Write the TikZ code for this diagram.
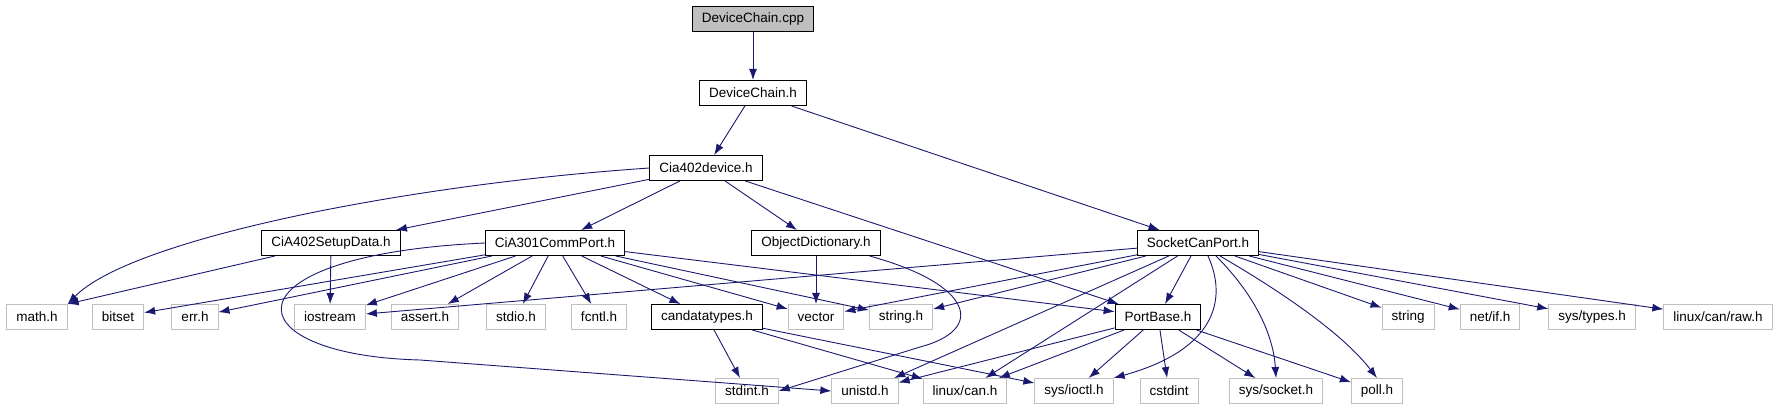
\documentclass[tikz,border=0pt]{standalone}
\usepackage{fontspec}
\setmainfont{Liberation Sans}
\usepackage{tikz}
\usetikzlibrary{arrows.meta}
\definecolor{incblue}{HTML}{191970}
\definecolor{boxgray}{HTML}{BFBFBF}

\begin{document}
\begin{tikzpicture}[x=1pt,y=-1pt,>={Latex[length=11pt,width=8pt]},
  hdr/.style={draw=black,line width=1pt,rectangle,inner xsep=9.5pt,inner ysep=0pt,minimum height=25pt,font=\fontsize{13.5}{15}\selectfont},
  sys/.style={hdr,draw=boxgray},
  root/.style={hdr,fill=boxgray},
  inc/.style={->,draw=incblue,line width=0.9pt}]
\useasboundingbox (0,0) rectangle (1775,411);
% files of the project
\node[root] (dcpp) at (753,19) {DeviceChain.cpp};
\node[hdr] (dch) at (753,93) {DeviceChain.h};
\node[hdr] (cia402) at (706,168) {Cia402device.h};
\node[hdr] (setup) at (331,243) {CiA402SetupData.h};
\node[hdr] (comm) at (555,243) {CiA301CommPort.h};
\node[hdr] (objdict) at (816,243) {ObjectDictionary.h};
\node[hdr] (socket) at (1198,243) {SocketCanPort.h};
\node[hdr] (candata) at (707,317) {candatatypes.h};
\node[hdr] (portbase) at (1158,317) {PortBase.h};
% system headers
\node[sys] (mathh) at (37,317) {math.h};
\node[sys] (bitset) at (118,317) {bitset};
\node[sys] (errh) at (195,317) {err.h};
\node[sys] (iostream) at (330,317) {iostream};
\node[sys] (asserth) at (425,317) {assert.h};
\node[sys] (stdioh) at (516,317) {stdio.h};
\node[sys] (fcntlh) at (599,317) {fcntl.h};
\node[sys] (vector) at (816,317) {vector};
\node[sys] (stringh) at (901,317) {string.h};
\node[sys] (string) at (1408,317) {string};
\node[sys] (netif) at (1490,317) {net/if.h};
\node[sys] (systypes) at (1592,317) {sys/types.h};
\node[sys] (canraw) at (1718,317) {linux/can/raw.h};
\node[sys] (stdinth) at (747,391) {stdint.h};
\node[sys] (unistdh) at (865,391) {unistd.h};
\node[sys] (linuxcan) at (965,391) {linux/can.h};
\node[sys] (sysioctl) at (1074,391) {sys/ioctl.h};
\node[sys] (cstdint) at (1169,391) {cstdint};
\node[sys] (syssocket) at (1276,391) {sys/socket.h};
\node[sys] (pollh) at (1377,391) {poll.h};
% includes
\draw[inc] (dcpp) -- (dch);
\draw[inc] (dch) -- (cia402);
\draw[inc] (dch) -- (socket);
\draw[inc] (cia402.west) .. controls (400,185) and (130,240) .. (mathh.north east);
\draw[inc] (cia402) -- (setup);
\draw[inc] (cia402) -- (comm);
\draw[inc] (cia402) -- (objdict);
\draw[inc] (cia402) -- (portbase);
\draw[inc] (setup) -- (mathh.north east);
\draw[inc] (setup) -- (iostream);
\foreach \t in {bitset,errh,iostream,asserth,stdioh,fcntlh,candata,vector,stringh,portbase}
  \draw[inc] (comm) -- (\t);
\draw[inc] (comm.west) .. controls (220,255) and (230,355) .. (420,360) -- (unistdh.west);
\draw[inc] (objdict) -- (vector);
\draw[inc] ([xshift=-11pt]objdict.south east) .. controls (975,285) and (985,330) .. (920,347) -- (stdinth.east);
\draw[inc] (candata) -- (stdinth);
\draw[inc] (candata) -- (linuxcan);
\draw[inc] (candata) -- (sysioctl);
\foreach \t in {iostream,vector,stringh,portbase,unistdh,linuxcan,string,netif,systypes,canraw}
  \draw[inc] (socket) -- (\t);
\draw[inc] ([xshift=10pt]socket.south) .. controls (1228,300) and (1215,350) .. (sysioctl.north east);
\draw[inc] ([xshift=18pt]socket.south) .. controls (1250,290) and (1273,330) .. (syssocket.north);
\draw[inc] ([xshift=22pt]socket.south) .. controls (1270,285) and (1340,330) .. (pollh.north);
\foreach \t in {unistdh,linuxcan,sysioctl,cstdint,syssocket,pollh}
  \draw[inc] (portbase) -- (\t);
\end{tikzpicture}
\end{document}
